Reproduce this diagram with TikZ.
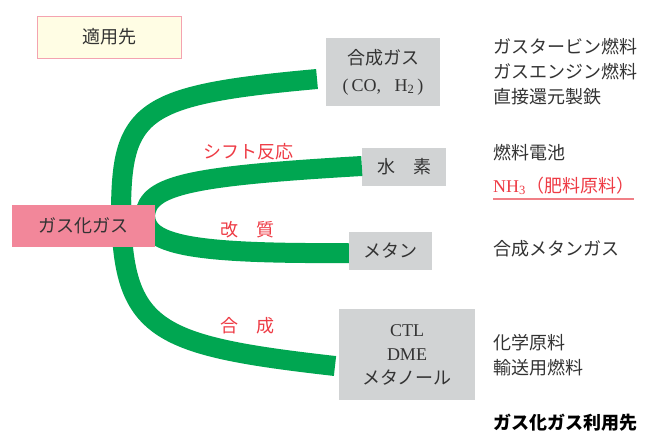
\documentclass[tikz,border=0pt]{standalone}
\usepackage{fontspec}
\setmainfont{Liberation Serif}
\newfontfamily\jp{Noto Sans CJK JP}
\usetikzlibrary{calc}
\definecolor{grn}{HTML}{00A651}
\definecolor{boxgray}{HTML}{D1D3D4}
\definecolor{pinkbox}{HTML}{F2879A}
\definecolor{yel}{HTML}{FFFDE4}
\definecolor{yelborder}{HTML}{F4A3B0}
\definecolor{txt}{HTML}{333333}
\definecolor{lblred}{HTML}{EE3B45}
\definecolor{ulred}{HTML}{F07F86}
\begin{document}
\begin{tikzpicture}[x=1pt,y=-1pt,
  pipe/.style={draw=grn,line width=20pt},
  graybox/.style={fill=boxgray,inner sep=0pt,align=center,text=txt,font=\fontsize{18}{27}\selectfont},
  lbl/.style={text=lblred,inner sep=0pt,font=\jp\fontsize{18}{20}\selectfont},
  usetxt/.style={anchor=west,text=txt,inner sep=0pt,font=\jp\fontsize{18}{20}\selectfont}]
\useasboundingbox (0,0) rectangle (646,432);
\fill[white] (0,0) rectangle (646,432);

% boxes (positions)
\node[graybox,minimum width=114pt,minimum height=68pt] (syn) at (383,72)
  {{\jp 合成ガス}\\(\,CO,\ \ \ H\textsubscript{2}\,)};
\node[graybox,minimum width=84pt,minimum height=38pt] (h2) at (404,167) {\jp 水　素};
\node[graybox,minimum width=83pt,minimum height=38pt] (ch4) at (390.5,251) {\jp メタン};
\node[graybox,minimum width=136pt,minimum height=91pt,font=\fontsize{18}{24}\selectfont] (ctl) at (407,354.5)
  {CTL\\DME\\{\jp メタノール}};

% connector end coordinates
\coordinate (e1) at (317,79);
\coordinate (e2) at ($(h2.west)+(0,-1)$);
\coordinate (root1) at (121,215);
\coordinate (root2) at (121,200);
\coordinate (mid) at (145,215);
\coordinate (e3) at ($(ch4.west)+(0,2)$);
\coordinate (e4) at (335,366);

% green pipes
\draw[pipe] (root1) .. controls (121,110) and (140,95) .. (e1);
\draw[pipe] (root2) .. controls (121,330) and (150,345) .. (e4);
\draw[pipe] (e2) .. controls (190,176) and (148,185) .. (mid)
             .. controls (145,245) and (190,254) .. (e3);

% source boxes
\node[fill=yel,draw=yelborder,line width=1pt,minimum width=144pt,minimum height=42pt,inner sep=0pt,text=txt,font=\jp\fontsize{18}{20}\selectfont] (apply) at (109,37) {適用先};
\node[fill=pinkbox,minimum width=143pt,minimum height=42pt,inner sep=0pt,text=txt,font=\jp\fontsize{18}{20}\selectfont] (gas) at (83.5,226) {ガス化ガス};

% process labels
\node[lbl] (l1) at (248,152) {シフト反応};
\node[lbl] (l2) at (247,230) {改　質};
\node[lbl] (l3) at (247,326) {合　成};

% applications
\node[usetxt] (a1) at (493,47) {ガスタービン燃料};
\node[usetxt] (a2) at (493,72) {ガスエンジン燃料};
\node[usetxt] (a3) at (493,97) {直接還元製鉄};
\node[usetxt] (a4) at (493,153) {燃料電池};
\node[usetxt,text=lblred,font=\fontsize{18}{20}\selectfont] (a5) at (493,186) {NH\textsubscript{3}{\jp（肥料原料）}};
\draw[ulred,line width=1.3pt] (493,199) -- (634,199);
\node[usetxt] (a6) at (493,249) {合成メタンガス};
\node[usetxt] (a7) at (493,343) {化学原料};
\node[usetxt] (a8) at (493,368) {輸送用燃料};
\node[usetxt,text=black,font=\jp\bfseries\fontsize{18}{20}\selectfont] (cap) at (493,423) {ガス化ガス利用先};
\end{tikzpicture}
\end{document}
